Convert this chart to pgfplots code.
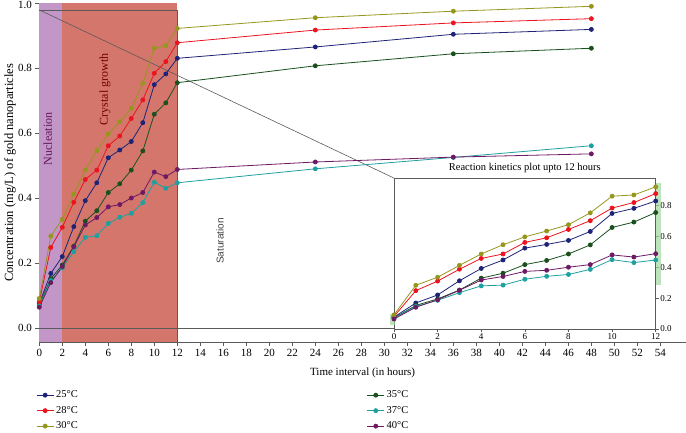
\documentclass[border=0pt]{standalone}
\usepackage{fontspec}
\setmainfont{Liberation Serif}
\setsansfont{Liberation Sans}
\usepackage{xcolor}
\usepackage{pgfplots}
\usepackage{pgfplotstable}
\pgfplotsset{compat=1.18}

\definecolor{c25}{RGB}{30,35,120}
\definecolor{c28}{RGB}{235,20,30}
\definecolor{c30}{RGB}{150,150,30}
\definecolor{c35}{RGB}{25,80,30}
\definecolor{c37}{RGB}{30,160,160}
\definecolor{c40}{RGB}{110,25,100}
\definecolor{nucfill}{RGB}{195,150,200}
\definecolor{growfill}{RGB}{212,118,107}
\definecolor{axisgray}{RGB}{90,90,90}
\definecolor{bandgreen}{RGB}{160,215,160}

% concentration (mg/L) vs time (h)
\pgfplotstableread{
x   c25   c28   c30   c35   c37   c40
0   0.077 0.082 0.092 0.072 0.069 0.065
1   0.169 0.249 0.284 0.153 0.147 0.141
2   0.221 0.311 0.336 0.195 0.186 0.190
3   0.313 0.388 0.413 0.253 0.236 0.251
4   0.393 0.458 0.487 0.330 0.280 0.318
5   0.448 0.487 0.547 0.362 0.285 0.341
6   0.525 0.562 0.598 0.418 0.323 0.374
7   0.549 0.592 0.636 0.445 0.342 0.381
8   0.575 0.646 0.677 0.487 0.354 0.401
9   0.633 0.703 0.754 0.546 0.387 0.418
10  0.750 0.785 0.862 0.659 0.450 0.481
11  0.783 0.821 0.870 0.694 0.431 0.467
12  0.831 0.879 0.923 0.756 0.448 0.489
24  0.866 0.918 0.956 0.808 0.491 0.512
36  0.905 0.940 0.976 0.845 0.526 0.527
48  0.920 0.953 0.991 0.862 0.562 0.537
}\kinetics

\pgfplotsset{
  series/.style={color=#1, mark=*, mark size=2pt, line width=0.8pt, mark options={solid}},
}

\begin{document}
\begin{tikzpicture}
\useasboundingbox (0,0) rectangle (686pt,-432pt);

\begin{axis}[
  at={(39.3pt,-342pt)}, anchor=south west,
  scale only axis, width=646.7pt, height=338.6pt,
  xmin=0, xmax=56.23, ymin=-0.042, ymax=1.0,
  axis x line=bottom, axis y line=left,
  axis line style={-, draw=axisgray, line width=0.8pt},
  xtick={0,2,...,54}, ytick={0,0.2,0.4,0.6,0.8},
  extra y ticks={1.0},
  extra y tick style={yticklabel style={yshift=-1.5pt}},
  tick align=outside, major tick length=4pt,
  tick style={axisgray, line width=0.6pt},
  /pgf/number format/assume math mode=true,
  yticklabel style={/pgf/number format/fixed, /pgf/number format/fixed zerofill,
    /pgf/number format/precision=1},
  ticklabel style={font=\fontsize{11}{12}\selectfont},
  xlabel={Time interval (in hours)},
  ylabel={Concentration (mg/L) of gold nanoparticles},
  xlabel style={font=\fontsize{11}{12}\selectfont, at={(axis description cs:0.5,-0.0916)}, anchor=center},
  ylabel style={font=\fontsize{12.5}{14}\selectfont, at={(axis description cs:-0.0453,0.5)}, anchor=center},
  clip=false,
  legend columns=2,
  legend style={draw=none, fill=none, at={(axis description cs:-0.005,-0.138)}, anchor=north west,
    font=\fontsize{10.5}{12}\selectfont, inner sep=0pt, row sep=3pt,
    /tikz/every even column/.append style={column sep=287pt}},
  legend cell align=left,
]
  % phase shading
  \fill[nucfill] (axis cs:0,-0.042) rectangle (axis cs:2,1.0);
  \fill[growfill] (axis cs:2,-0.042) rectangle (axis cs:12,1.0);
  \draw[axisgray, line width=0.8pt] (axis cs:0,0.98) -- (axis cs:12,0.98) -- (axis cs:12,-0.042);
  \draw[axisgray, line width=0.8pt] (axis cs:0,0) -- (axis cs:30.84,0);
  \draw[axisgray, line width=0.6pt] (axis cs:0,0.98) -- (axis cs:30.84,0.4625);

  \node[rotate=90, text=c40!90!black, font=\fontsize{12}{13}\selectfont] at (axis cs:0.73,0.583) {Nucleation};
  \node[rotate=90, text=black!55!red, font=\fontsize{12}{13}\selectfont] at (axis cs:5.71,0.736) {Crystal growth};
  \node[rotate=90, text=black!75, font=\sffamily\fontsize{10}{12}\selectfont] at (axis cs:15.71,0.269) {Saturation};

  \addplot[series=c25] table[x=x, y=c25] {\kinetics};
  \addlegendentry{25°C}
  \addplot[series=c35] table[x=x, y=c35] {\kinetics};
  \addlegendentry{35°C}
  \addplot[series=c28] table[x=x, y=c28] {\kinetics};
  \addlegendentry{28°C}
  \addplot[series=c37] table[x=x, y=c37] {\kinetics};
  \addlegendentry{37°C}
  \addplot[series=c30] table[x=x, y=c30] {\kinetics};
  \addlegendentry{30°C}
  \addplot[series=c40] table[x=x, y=c40] {\kinetics};
  \addlegendentry{40°C}
\end{axis}

% inset: first 12 hours
\begin{axis}[
  at={(394pt,-329pt)}, anchor=south west,
  scale only axis, width=261.7pt, height=151pt,
  xmin=0, xmax=12, ymin=0, ymax=0.98,
  axis line style={draw=axisgray, line width=0.8pt},
  xtick={0,2,...,12}, ytick={0,0.2,0.4,0.6,0.8},
  xtick pos=bottom, ytick pos=right, yticklabel pos=right,
  tick align=outside, major tick length=3pt,
  tick style={axisgray, line width=0.6pt},
  /pgf/number format/assume math mode=true,
  yticklabel style={/pgf/number format/fixed, /pgf/number format/fixed zerofill,
    /pgf/number format/precision=1, inner sep=1.5pt},
  xticklabel style={inner sep=1pt},
  ticklabel style={font=\fontsize{9}{10}\selectfont},
  clip=false,
  restrict x to domain=0:12,
]
  \fill[bandgreen, opacity=0.7] (axis cs:12.02,0.286) rectangle (axis cs:12.26,0.948);
  \fill[bandgreen, opacity=0.7] (axis cs:-0.18,0.026) rectangle (axis cs:0.05,0.097);
  \node[anchor=base, font=\fontsize{10.5}{12}\selectfont] at ([yshift=7.5pt]axis description cs:0.5,1) {Reaction kinetics plot upto 12 hours};

  \addplot[series=c25] table[x=x, y=c25] {\kinetics};
  \addplot[series=c35] table[x=x, y=c35] {\kinetics};
  \addplot[series=c28] table[x=x, y=c28] {\kinetics};
  \addplot[series=c37] table[x=x, y=c37] {\kinetics};
  \addplot[series=c30] table[x=x, y=c30] {\kinetics};
  \addplot[series=c40] table[x=x, y=c40] {\kinetics};
\end{axis}
\end{tikzpicture}
\end{document}
